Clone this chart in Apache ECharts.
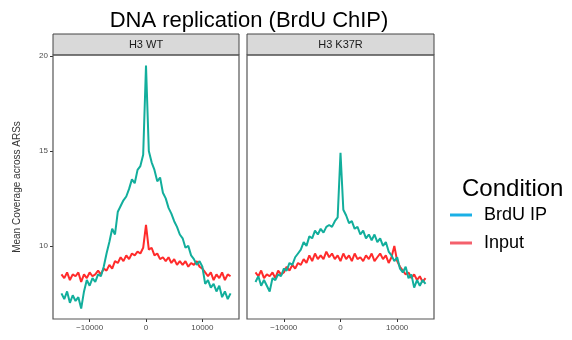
<!DOCTYPE html>
<html><head><meta charset="utf-8">
<script src="https://cdn.jsdelivr.net/npm/echarts@6/dist/echarts.min.js"></script>
<style>html,body{margin:0;padding:0;background:#fff}#c{width:572px;height:340px}</style>
</head><body><div id="c"></div>
<script>
// positions (bp) relative to ARS centre, step 500
const positions = [];
for (let k = -30; k <= 30; k++) positions.push(k * 500);
const panels = ["H3 WT", "H3 K37R"];
const conditions = ["BrdU IP", "Input"];
const xTicks = [-10000, 0, 10000];
const yTicks = [10, 15, 20];

const wtBrdU = [7.5,7.2,7.6,7.0,7.4,7.1,7.3,6.7,7.6,8.2,7.9,8.3,8.1,8.5,8.4,8.9,9.6,10.2,10.9,10.6,11.8,12.1,12.4,12.6,13.0,13.5,13.3,14.0,14.2,14.8,
  19.5,
  15.0,14.4,14.0,13.4,13.6,12.8,12.5,12.0,11.7,11.3,11.0,10.6,10.4,9.9,10.0,9.5,9.3,9.0,9.2,8.9,8.0,8.2,7.8,8.0,7.6,7.9,7.3,7.6,7.2,7.5];
const wtInput = [8.5,8.3,8.6,8.2,8.5,8.4,8.6,8.1,8.5,8.3,8.6,8.4,8.5,8.7,8.5,8.8,8.7,9.0,8.8,9.2,9.1,9.4,9.2,9.5,9.3,9.6,9.5,9.7,9.6,9.9,
  11.1,
  9.8,9.9,9.5,9.6,9.3,9.4,9.2,9.4,9.1,9.3,9.0,9.2,9.0,9.2,8.9,9.1,9.0,9.2,8.9,8.8,8.6,8.4,8.6,8.2,8.5,8.3,8.6,8.2,8.5,8.4];
const k37rBrdU = [8.1,8.4,7.9,8.2,7.9,7.6,8.3,8.2,8.5,8.4,8.8,8.7,9.1,9.0,9.4,9.6,9.8,10.2,10.0,10.5,10.4,10.8,10.6,10.9,10.7,11.0,11.1,11.0,11.3,11.5,
  14.9,
  11.9,11.6,11.2,11.3,10.9,11.0,10.6,10.8,10.4,10.6,10.3,10.6,10.2,10.4,10.0,10.2,9.7,9.5,9.2,9.4,8.8,8.6,8.9,8.3,8.5,7.8,8.2,7.9,8.2,8.0];
const k37rInput = [8.6,8.4,8.7,8.3,8.5,8.4,8.6,8.3,8.7,8.5,8.6,8.9,8.7,9.0,8.8,9.1,9.0,9.3,9.1,9.5,9.2,9.6,9.3,9.5,9.3,9.7,9.4,9.6,9.3,9.5,
  9.2,
  9.6,9.3,9.5,9.2,9.6,9.3,9.4,9.2,9.5,9.3,9.6,9.2,9.4,9.6,9.3,9.5,9.1,9.4,10.0,9.2,8.9,8.7,8.5,8.6,8.3,8.5,8.2,8.4,8.1,8.3];

const lineColors = ["#12ae9c", "#ff2b2b"];
const legendColors = ["#1ab0e6", "#f4606c"];
const pair = arr => positions.map((x, i) => [x, arr[i]]);

const grids = [
  {left: 53, top: 55, width: 186, height: 264},
  {left: 247, top: 55, width: 187, height: 264}
];
const tickFont = {fontFamily: "Liberation Sans, Arial", fontSize: 8, color: "#4d4d4d"};
const fmt = v => (v < 0 ? "\u2212" + Math.abs(v) : String(v));

const xAxes = grids.map((g, i) => ({
  type: "value", gridIndex: i, min: -16500, max: 16500,
  axisLine: {show: false, onZero: false}, splitLine: {show: false},
  axisTick: {show: true, length: 3, customValues: xTicks, lineStyle: {color: "#333"}},
  axisLabel: Object.assign({customValues: xTicks, formatter: fmt, margin: 5}, tickFont)
}));
const yAxes = grids.map((g, i) => ({
  type: "value", gridIndex: i, min: 6.15, max: 20.05,
  axisLine: {show: false, onZero: false}, splitLine: {show: false},
  name: i === 0 ? "Mean Coverage across ARSs" : "",
  nameLocation: "middle", nameGap: 31,
  nameTextStyle: {fontFamily: "Liberation Sans, Arial", fontSize: 10, color: "#333"},
  axisTick: {show: i === 0, length: 3, customValues: yTicks, lineStyle: {color: "#333"}},
  axisLabel: Object.assign({show: i === 0, customValues: yTicks, margin: 5}, tickFont)
}));

const data = [[wtBrdU, wtInput], [k37rBrdU, k37rInput]];
const series = [];
data.forEach((pd, gi) => pd.forEach((arr, ci) => series.push({
  type: "line", name: conditions[ci], xAxisIndex: gi, yAxisIndex: gi,
  data: pair(arr), showSymbol: false, symbol: "none", silent: true,
  lineStyle: {color: lineColors[ci], width: 2}, z: ci === 0 ? 3 : 2
})));

const graphic = [];
grids.forEach((g, i) => {
  graphic.push({type: "rect", shape: {x: g.left, y: 34, width: g.width, height: 21},
    style: {fill: "#d9d9d9", stroke: "#444", lineWidth: 1}, z: 10});
  graphic.push({type: "text", x: g.left + g.width / 2, y: 44.5,
    style: {text: panels[i], fill: "#1a1a1a", font: "11px Liberation Sans, Arial", textAlign: "center", textVerticalAlign: "middle"}, z: 11});
  graphic.push({type: "rect", shape: {x: g.left, y: g.top, width: g.width, height: g.height},
    style: {fill: "none", stroke: "#555", lineWidth: 1.2}, z: 10});
});
graphic.push({type: "text", x: 462, y: 189, style: {text: "Condition", fill: "#000", font: "24px Liberation Sans, Arial", textVerticalAlign: "middle"}});
conditions.forEach((c, i) => {
  const y = 215 + i * 28;
  graphic.push({type: "line", shape: {x1: 450, y1: y, x2: 472, y2: y}, style: {stroke: legendColors[i], lineWidth: 3}});
  graphic.push({type: "text", x: 484, y: y, style: {text: c, fill: "#000", font: "18px Liberation Sans, Arial", textVerticalAlign: "middle"}});
});

const chart = echarts.init(document.getElementById("c"), null, {renderer: "canvas"});
chart.setOption({
  animation: false,
  backgroundColor: "#fff",
  title: {text: "DNA replication (BrdU ChIP)", left: 244, top: 5, textAlign: "center",
    textStyle: {fontFamily: "Liberation Sans, Arial", fontSize: 22, fontWeight: "normal", color: "#000"}},
  grid: grids,
  xAxis: xAxes, yAxis: yAxes, series: series, graphic: graphic
});
</script></body></html>
